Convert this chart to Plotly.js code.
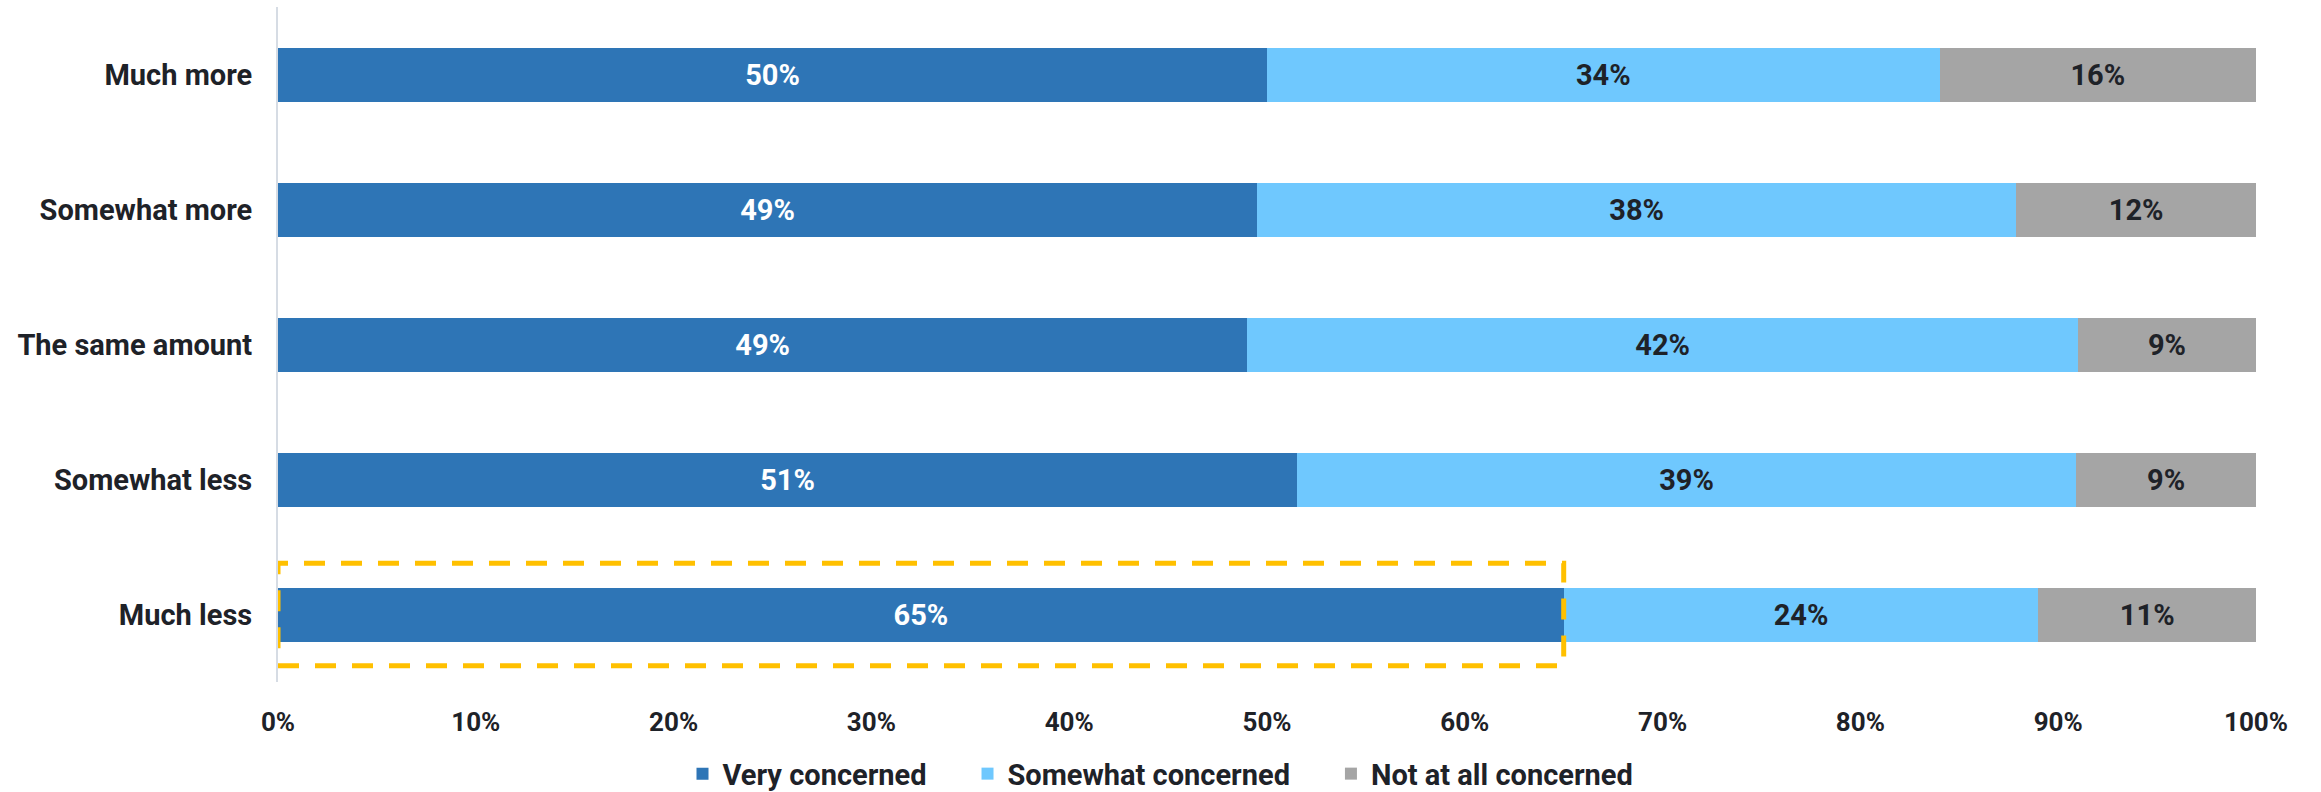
<!DOCTYPE html>
<html>
<head>
<meta charset="utf-8">
<script src="https://cdn.plot.ly/plotly-3.0.1.min.js"></script>
<style>html,body{margin:0;padding:0;background:#fff}#chart{width:2321px;height:792px}</style>
</head>
<body>
<div id="chart"></div>
<script>
// Categories, bottom to top
const categories = ["Much less", "Somewhat less", "The same amount", "Somewhat more", "Much more"];
const veryConcerned = [65, 51, 49, 49, 50];
const somewhatConcerned = [24, 39, 42, 38, 34];
const notAtAllConcerned = [11, 9, 9, 12, 16];
const seriesNames = ["Very concerned", "Somewhat concerned", "Not at all concerned"];
const tickValues = [0, 10, 20, 30, 40, 50, 60, 70, 80, 90, 100];
const highlightCategory = "Much less";
const highlightValue = 65;

const colors = ["#2E75B6", "#6FC8FE", "#A5A5A5"];
const textColors = ["#FFFFFF", "#1E2228", "#1E2228"];
const FONT = "Roboto, 'Liberation Sans', Arial, sans-serif";
const dark = "#1E2228";
const legendPad = "\u00A0\u00A0\u00A0\u00A0\u00A0";

const seriesValues = [veryConcerned, somewhatConcerned, notAtAllConcerned];
const traces = seriesValues.map((vals, i) => ({
  type: "bar",
  orientation: "h",
  name: "<b>" + seriesNames[i] + "</b>" + (i < seriesNames.length - 1 ? legendPad : ""),
  y: categories,
  x: vals,
  text: vals.map(v => "<b>" + v + "%</b>"),
  textposition: "inside",
  insidetextanchor: "middle",
  constraintext: "none",
  textfont: {family: FONT, size: 29, color: textColors[i]},
  marker: {color: colors[i], line: {width: 0}},
  hoverinfo: "skip"
}));

const hiIdx = categories.indexOf(highlightCategory);

const layout = {
  width: 2321,
  height: 792,
  paper_bgcolor: "#fff",
  plot_bgcolor: "#fff",
  barmode: "stack",
  barnorm: "percent",
  bargap: 0.6,
  showlegend: true,
  margin: {l: 278, r: 65, t: 7, b: 110},
  font: {family: FONT, size: 29, color: dark},
  xaxis: {
    range: [0, 100],
    tickvals: tickValues,
    ticktext: tickValues.map(v => "<b>" + v + "%</b>"),
    showgrid: false,
    zeroline: false,
    showline: false,
    ticks: "",
    ticklabelstandoff: 22,
    tickfont: {family: FONT, size: 26, color: dark},
    fixedrange: true
  },
  yaxis: {
    type: "category",
    categoryorder: "array",
    categoryarray: categories,
    tickvals: categories,
    ticktext: categories.map(c => "<b>" + c + "</b>"),
    showgrid: false,
    zeroline: false,
    showline: true,
    linecolor: "#D6DCE4",
    linewidth: 2,
    ticks: "",
    ticklabelstandoff: 18,
    tickfont: {family: FONT, size: 29, color: dark},
    range: [-0.5, categories.length - 0.5],
    fixedrange: true
  },
  legend: {
    orientation: "h",
    traceorder: "normal",
    xref: "container",
    yref: "container",
    x: 0.5,
    xanchor: "center",
    y: 0.023,
    yanchor: "middle",
    font: {family: FONT, size: 29, color: dark},
    itemwidth: 30
  },
  shapes: [{
    type: "rect",
    xref: "x",
    yref: "y",
    x0: 0,
    x1: highlightValue,
    y0: hiIdx - 0.38,
    y1: hiIdx + 0.38,
    line: {color: "#FFC000", width: 5, dash: "21px,16px"},
    fillcolor: "rgba(0,0,0,0)",
    layer: "above"
  }]
};

Plotly.newPlot("chart", traces, layout, {staticPlot: true, displayModeBar: false});
</script>
</body>
</html>
